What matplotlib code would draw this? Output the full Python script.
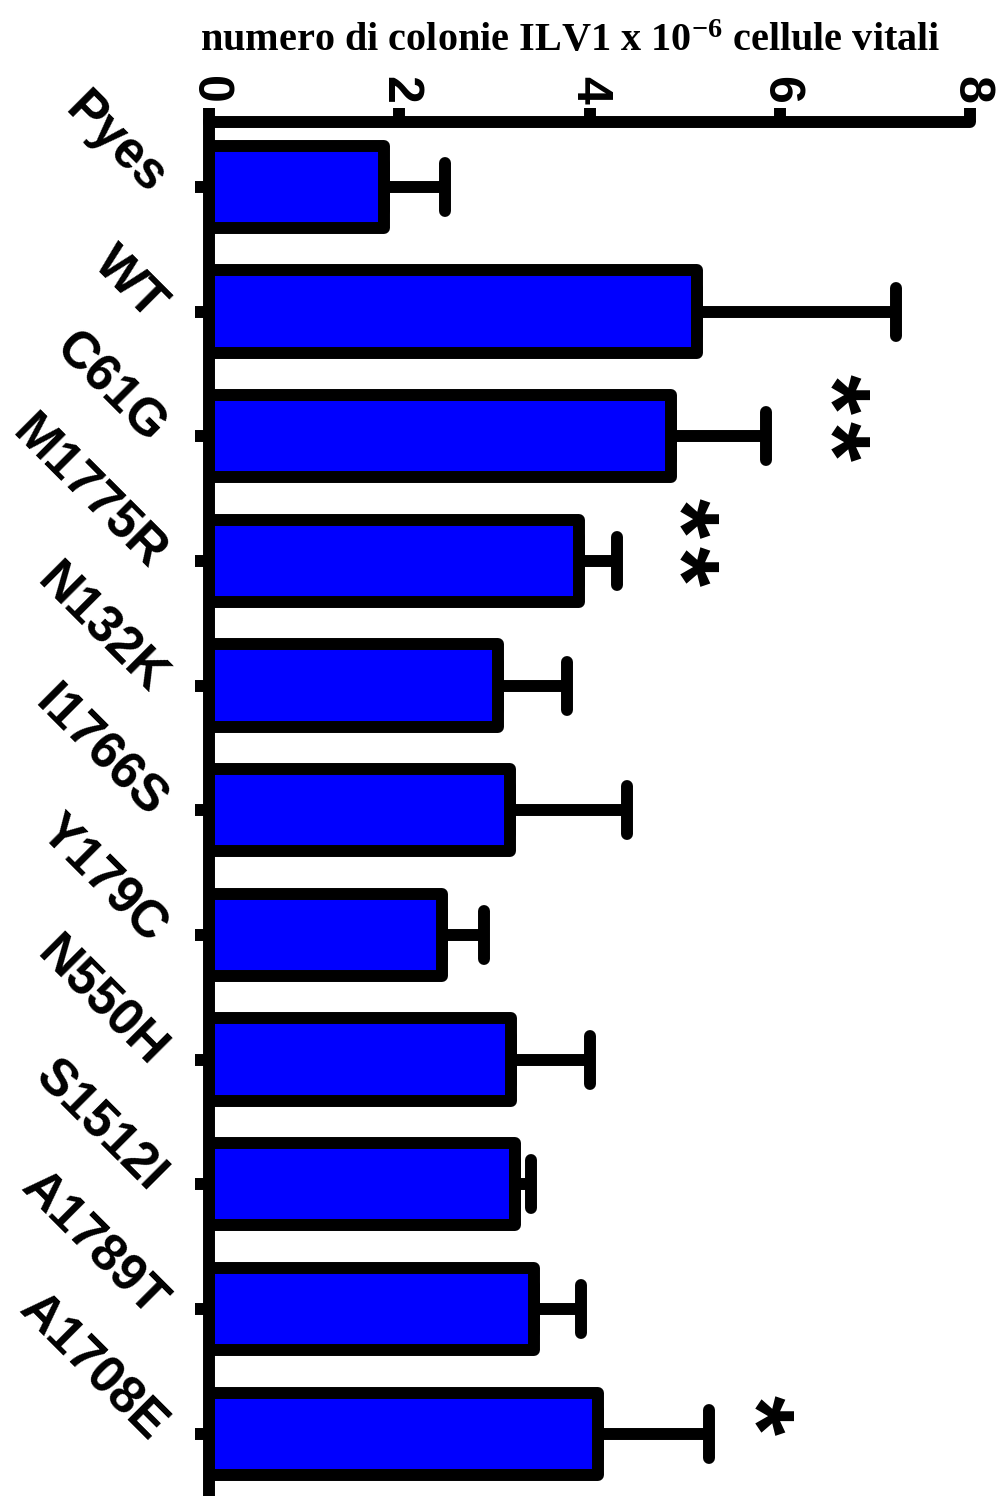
import matplotlib
matplotlib.use("Agg")
import matplotlib.pyplot as plt
import numpy as np
from matplotlib.markers import MarkerStyle

# ILV1 colony counts per 10^6 viable cells, mean and SEM for each strain
strains = ["Pyes", "WT", "C61G", "M1775R", "N132K", "I1766S",
           "Y179C", "N550H", "S1512I", "A1789T", "A1708E"]
colonies = [1.84, 5.13, 4.86, 3.89, 3.04, 3.16, 2.45, 3.18, 3.22, 3.42, 4.09]
sem = [0.64, 2.09, 1.00, 0.40, 0.72, 1.23, 0.44, 0.83, 0.17, 0.49, 1.17]

# significance marks: strain, label, x position
sig_strains = ["C61G", "M1775R", "A1708E"]
sig_labels = ["**", "**", "*"]
sig_x = [6.46, 4.88, 5.67]

xticks = [0, 2, 4, 6, 8]

plt.rcParams["font.family"] = "Liberation Sans"
plt.rcParams["font.weight"] = "bold"
plt.rcParams["mathtext.fontset"] = "custom"
plt.rcParams["mathtext.rm"] = "Liberation Serif:bold"
plt.rcParams["mathtext.it"] = "Liberation Serif:bold"
plt.rcParams["mathtext.bf"] = "Liberation Serif:bold"

LW = 8.6  # thick GraphPad-style strokes

fig = plt.figure(figsize=(10.02, 14.96), dpi=100)
ax = fig.add_axes([209 / 1002, 0.0, (970 - 209) / 1002, 1 - 122 / 1496])

y = np.arange(len(strains))
ax.barh(y, colonies, height=0.66, color="#0000ff", edgecolor="black",
        linewidth=LW, joinstyle="round", zorder=2)
eb = ax.errorbar(colonies, y, xerr=[np.zeros(len(sem)), sem], fmt="none",
                 ecolor="black", elinewidth=LW, capsize=17, capthick=LW,
                 zorder=1)
for cap in eb[1]:
    cap.set_marker(MarkerStyle("|", capstyle="round"))
for col in eb[2]:
    col.set_capstyle("butt")

# asterisks stacked along the bar axis, one text per star
for name, lab, xs in zip(sig_strains, sig_labels, sig_x):
    yi = strains.index(name)
    n = len(lab)
    for k, ch in enumerate(lab):
        yk = yi - 0.15 + (k - (n - 1) / 2) * 0.38
        ax.text(xs, yk, ch, rotation=-90, ha="center", va="center",
                fontsize=74, fontweight="bold", family="Liberation Sans")

ax.set_xlim(0, 8)
ax.set_ylim(len(strains) - 0.5, -0.52)

ax.xaxis.tick_top()
ax.set_xticks(xticks)
ax.set_xticklabels([str(t) for t in xticks], rotation=-90, fontsize=36,
                   fontweight="bold")
ax.set_yticks(y)
ax.set_yticklabels(strains, rotation=-45, fontsize=37, fontweight="bold",
                   ha="right", va="center", rotation_mode="anchor")

ax.tick_params(axis="both", length=10, width=LW, direction="out")
ax.tick_params(axis="x", pad=3)
ax.tick_params(axis="y", pad=27)
for line in ax.xaxis.get_ticklines() + ax.yaxis.get_ticklines():
    line.set_solid_capstyle("round")

for side in ["bottom", "right"]:
    ax.spines[side].set_visible(False)
for side in ["top", "left"]:
    ax.spines[side].set_linewidth(LW)
    ax.spines[side].set_capstyle("round")

fig.text(570 / 1002, 1 - 42 / 1496,
         r"numero di colonie ILV1 x 10$^{-6}$ cellule vitali",
         ha="center", va="center", fontsize=29, fontweight="bold",
         family="Liberation Serif")

fig.savefig("out.png", dpi=100)
